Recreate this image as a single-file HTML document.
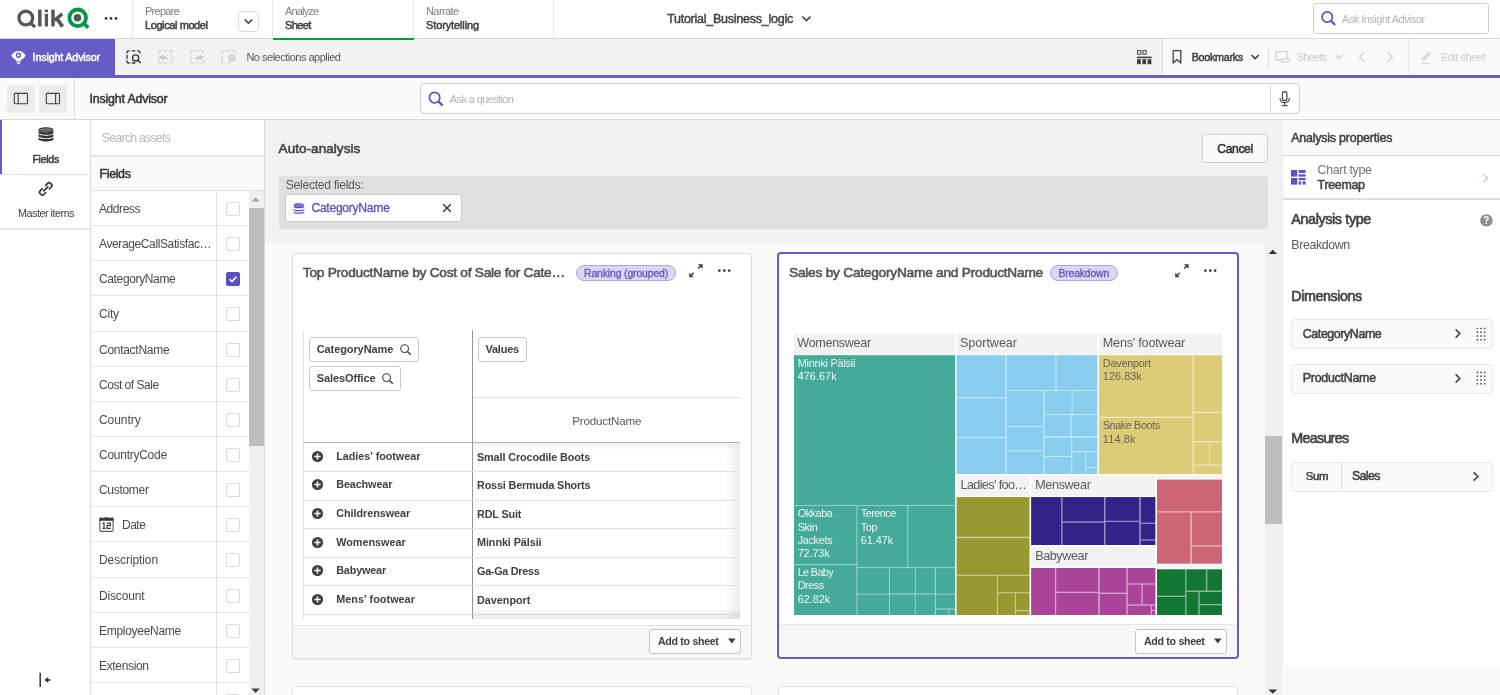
<!DOCTYPE html>
<html><head>
<meta charset="utf-8">
<title>Insight Advisor</title>
<style>
*{box-sizing:border-box;margin:0;padding:0}
html,body{width:1500px;height:695px;overflow:hidden;background:#fff}
body{font-family:"Liberation Sans",sans-serif;color:#404040;font-size:12px;position:relative;will-change:transform}
.abs{position:absolute}
.t{position:absolute;white-space:nowrap;line-height:1}
.bb{font-weight:bold}
.b{font-weight:normal;-webkit-text-stroke:0.5px currentColor}
/* top bar */
#top{left:0;top:0;width:1500px;height:39px;background:#fff;border-bottom:1px solid #d9d9d9}
.vd{position:absolute;width:1px;background:#e6e6e6}
/* selection bar */
#sel{left:0;top:39px;width:1500px;height:36px;background:#f2f2f2}
#pline{left:0;top:75px;width:1500px;height:2.6px;background:#655dc6}
#ia{left:0;top:39px;width:115px;height:36px;background:#655dc6}
/* third bar */
#bar3{left:0;top:78px;width:1500px;height:42px;background:#fafafa;border-bottom:1px solid #d9d9d9}
.tb{position:absolute;top:85px;width:28px;height:28px;background:#ececec;border-radius:3px}
/* left */
#lefticons{left:0;top:120px;width:90px;height:575px;background:#fff}
#assets{left:90px;top:120px;width:175px;height:575px;background:#fff;border-left:1px solid #d9d9d9;border-right:1px solid #d9d9d9}
.row{position:absolute;left:91px;width:157.5px;height:35px;border-bottom:1px solid #e6e6e6}
.row .n{position:absolute;left:8px;top:11.9px;font-size:12px;line-height:1;white-space:nowrap;color:#4a4a4a}
.row .cbx{position:absolute;left:125px;top:0;width:33px;height:35px;border-left:1px solid #e0e0e0}
.row .cb{position:absolute;left:8.5px;top:11px;width:14px;height:14px;border:1px solid #dadada;border-radius:2px;background:#fff}
/* main */
#main{left:265px;top:120px;width:1017px;height:575px;background:#fafafa}
#mainhead{left:265px;top:120px;width:1017px;height:123px;background:#f2f2f2}
.card{position:absolute;background:#fff;border:1px solid #dcdcdc;border-radius:3px;box-shadow:0 1px 1px rgba(0,0,0,0.08)}
.pill{position:absolute;height:16px;margin-top:-0.7px;border:1px solid #a9a5e0;background:#d9d7f1;border-radius:8px;color:#625ac6;font-size:10.5px;line-height:14px;text-align:center;-webkit-text-stroke:0.35px #625ac6}
.foot{position:absolute;left:0;right:0;bottom:0;height:33px;background:#f7f7f7;border-top:1px solid #e6e6e6;border-radius:0 0 3px 3px}
.addbtn{position:absolute;width:92px;height:25px;border:1px solid #c4c4c4;border-radius:3px;background:#fdfdfd}
/* right */
#right{left:1281.5px;top:120px;width:218.5px;height:546px;background:#fff;border-left:1px solid #ebebeb}
.box{position:absolute;left:1291px;width:202px;height:30px;background:#fafafa;border:1px solid #e7e7e7;border-radius:3px}
</style>
</head>
<body>
<!--TOP-->
<div id="top" class="abs"></div>
<svg class="abs" style="left:0;top:0" width="130" height="38" viewBox="0 0 130 38">
 <g fill="none" stroke="#54565a">
  <circle cx="25.8" cy="18" r="6.9" stroke-width="3.3"></circle>
  <path d="M30.2 22.6 L35 27" stroke-width="3.2"></path>
  <path d="M39.8 9.6 V26.4" stroke-width="3.5"></path>
  <path d="M46.4 13.8 V26.4" stroke-width="3.3"></path>
  <path d="M46.4 9.6 V12.2" stroke-width="3.3"></path>
  <path d="M53 9.6 V26.4" stroke-width="3.5"></path>
  <path d="M54.4 20.3 L62.3 13.9" stroke-width="3.3"></path>
  <path d="M56.8 18.6 L62.6 26.6" stroke-width="3.6"></path>
 </g>
 <circle cx="77.7" cy="17.8" r="8.3" fill="none" stroke="#009845" stroke-width="3.8"></circle>
 <path d="M83.6 23.4 L88.3 27.6" stroke="#009845" stroke-width="3.6" fill="none"></path>
 <circle cx="77.5" cy="17.8" r="3.8" fill="#54565a"></circle>
 <circle cx="88.5" cy="10.6" r="0.7" fill="#b0b0b0"></circle>
 <circle cx="106" cy="18.4" r="1.35" fill="#333"></circle><circle cx="111" cy="18.4" r="1.35" fill="#333"></circle><circle cx="116" cy="18.4" r="1.35" fill="#333"></circle>
</svg>
<div class="vd" style="left:132px;top:0;height:38px"></div>
<div class="vd" style="left:272px;top:0;height:38px"></div>
<div class="vd" style="left:413px;top:0;height:38px"></div>
<div class="vd" style="left:553px;top:0;height:38px"></div>
<div class="t" style="left: 145px; top: 6px; font-size: 11px; color: rgb(125, 125, 125); letter-spacing: -0.73px;">Prepare</div>
<div class="t b" style="left: 145px; top: 20px; font-size: 11px; color: rgb(64, 64, 64); letter-spacing: -0.41px;">Logical model</div>
<div class="abs" style="left:238px;top:10.5px;width:21px;height:21.5px;border:1px solid #dadada;border-radius:4px;background:#fff"></div>
<svg class="abs" style="left:238px;top:11px" width="21" height="21"><path d="M6.8 8.6 L10.5 12.2 L14.2 8.6" fill="none" stroke="#404040" stroke-width="1.6"></path></svg>
<div class="t" style="left: 285px; top: 6px; font-size: 11px; color: rgb(125, 125, 125); letter-spacing: -0.83px;">Analyze</div>
<div class="t b" style="left: 285px; top: 20px; font-size: 11px; color: rgb(64, 64, 64); letter-spacing: -0.59px;">Sheet</div>
<div class="abs" style="left:273px;top:37.5px;width:140.5px;height:2.5px;background:#009845;z-index:5"></div>
<div class="t" style="left: 426px; top: 6px; font-size: 11px; color: rgb(125, 125, 125); letter-spacing: -0.58px;">Narrate</div>
<div class="t b" style="left: 426px; top: 20px; font-size: 11px; color: rgb(64, 64, 64); letter-spacing: -0.12px;">Storytelling</div>
<div class="t b" style="left: 667px; top: 12.8px; font-size: 12.5px; color: rgb(64, 64, 64); -webkit-text-stroke-width: 0.45px; letter-spacing: -0.24px;">Tutorial_Business_logic</div>
<svg class="abs" style="left:800px;top:12px" width="14" height="14"><path d="M2.5 4.5 L6.5 8.5 L10.5 4.5" fill="none" stroke="#404040" stroke-width="1.6"></path></svg>
<div class="abs" style="left:1313px;top:3px;width:176px;height:31px;border:1px solid #cfcfcf;border-radius:3px;background:#fff"></div>
<svg class="abs" style="left:1319px;top:9px" width="20" height="20"><circle cx="8.2" cy="8" r="5.2" fill="none" stroke="#5b53c4" stroke-width="1.7"></circle><path d="M12 11.8 L16.2 16" stroke="#5b53c4" stroke-width="2.2" fill="none"></path></svg>
<div class="t" style="left: 1342px; top: 13.7px; font-size: 11px; color: rgb(179, 179, 179); letter-spacing: -0.54px;">Ask Insight Advisor</div>
<!--SEL-->
<div id="sel" class="abs"></div>
<div class="abs" style="left:1162px;top:39px;width:338px;height:36px;background:#fafafa;border-left:1px solid #e0e0e0"></div>
<div id="pline" class="abs"></div>
<div id="ia" class="abs"></div>
<svg class="abs" style="left:10px;top:48px" width="18" height="18" viewBox="0 0 18 18">
 <path d="M1.3 7.6 C3.2 4.2 5.8 2.9 8.5 2.9 C11.2 2.9 13.8 4.2 15.7 7.6 C14.4 10 12.6 11.4 10.8 12 V13.2 H6.2 V12 C4.4 11.4 2.6 10 1.3 7.6 Z" fill="#fff"></path>
 <circle cx="8.5" cy="7.3" r="2.7" fill="#655dc6"></circle>
 <circle cx="8.5" cy="7.3" r="1.2" fill="#fff"></circle>
 <path d="M6.6 14.3 H10.4 M7.2 15.7 H9.8" stroke="#fff" stroke-width="1"></path>
</svg>
<div class="t b" style="left: 32.6px; top: 51.5px; font-size: 10.7px; color: rgb(255, 255, 255); letter-spacing: -0.14px;">Insight Advisor</div>
<svg class="abs" style="left:120px;top:44px" width="125" height="26" viewBox="0 0 125 26">
 <path d="M7.0 9.6 V8.4 Q7.0 6.8 8.7 6.8 H9.8 M17.1 6.8 H18.3 Q19.9 6.8 19.9 8.4 V9.6 M9.8 19.0 H8.7 Q7.0 19.0 7.0 17.4 V16.2 M11.7 6.8 H15.3 M11.7 19.0 H15.3 M7.0 11.1 V14.7" fill="none" stroke="#333" stroke-width="1.35"></path>
 <circle cx="15.6" cy="13.9" r="3.1" fill="none" stroke="#333" stroke-width="1.3"></circle>
 <path d="M17.9 16.2 L20.7 19" stroke="#333" stroke-width="1.6"></path>
 <g fill="none" stroke="#cdcdcd" stroke-width="1.2"><path d="M38.8 9.6 V8.4 Q38.8 6.8 40.4 6.8 H41.6 M49.1 6.8 H50.3 Q51.9 6.8 51.9 8.4 V9.6 M51.9 16.2 V17.4 Q51.9 19.0 50.3 19.0 H49.1 M41.6 19.0 H40.4 Q38.8 19.0 38.8 17.4 V16.2 M43.5 6.8 H47.1 M43.5 19.0 H47.1 M38.8 11.1 V14.7 M51.9 11.1 V14.7"></path><path d="M70.6 9.6 V8.4 Q70.6 6.8 72.2 6.8 H73.4 M80.6 6.8 H81.8 Q83.4 6.8 83.4 8.4 V9.6 M83.4 16.2 V17.4 Q83.4 19.0 81.8 19.0 H80.6 M73.4 19.0 H72.2 Q70.6 19.0 70.6 17.4 V16.2 M75.2 6.8 H78.8 M75.2 19.0 H78.8 M70.6 11.1 V14.7"></path><path d="M102.0 9.6 V8.4 Q102.0 6.8 103.6 6.8 H104.8 M112.5 6.8 H113.7 Q115.3 6.8 115.3 8.4 V9.6 M104.8 19.0 H103.6 Q102.0 19.0 102.0 17.4 V16.2 M106.9 6.8 H110.5 M106.9 19.0 H110.5 M102.0 11.1 V14.7"></path></g>
 <path d="M39.2 13.3 L43.4 10.3 V12.2 C46.4 12.2 47.9 14 47.9 17 C46.9 15.3 45.6 14.7 43.4 14.7 V16.3 Z" fill="#c8c8c8"></path>
 <path d="M83.8 13.3 L79.6 10.3 V12.2 C76.6 12.2 75.1 14 75.1 17 C76.1 15.3 77.4 14.7 79.6 14.7 V16.3 Z" fill="#c8c8c8"></path>
 <circle cx="112" cy="13.9" r="3.5" fill="#cdcdcd"></circle>
 <path d="M110.6 12.5 L113.4 15.3 M113.4 12.5 L110.6 15.3" stroke="#f2f2f2" stroke-width="0.9"></path>
</svg>
<div class="t" style="left: 246.4px; top: 52px; font-size: 11px; color: rgb(89, 89, 89); letter-spacing: -0.5px;">No selections applied</div>
<svg class="abs" style="left:1136px;top:49px" width="17" height="17" viewBox="0 0 17 17">
 <g fill="none" stroke="#404040" stroke-width="1"><rect x="1.6" y="1.6" width="3.3" height="3.6"></rect><rect x="6.9" y="1.6" width="3.3" height="3.6"></rect></g>
 <g fill="#404040"><rect x="1" y="7.6" width="14.6" height="1.6"></rect><rect x="1" y="10.2" width="3.8" height="5"></rect><rect x="6.3" y="10.2" width="3.8" height="5"></rect><rect x="11.6" y="10.2" width="3.8" height="5"></rect></g>
</svg>
<svg class="abs" style="left:1170px;top:49px" width="14" height="16" viewBox="0 0 14 16"><path d="M3.2 1.6 H10.8 V14 L7 10.6 L3.2 14 Z" fill="none" stroke="#404040" stroke-width="1.3" stroke-linejoin="round"></path></svg>
<div class="t b" style="left: 1191.7px; top: 52px; font-size: 10.7px; color: rgb(64, 64, 64); letter-spacing: -0.25px;">Bookmarks</div>
<svg class="abs" style="left:1249px;top:51px" width="12" height="12"><path d="M2.6 4 L6.2 7.6 L9.8 4" fill="none" stroke="#404040" stroke-width="1.6"></path></svg>
<div class="vd" style="left:1267.5px;top:47px;height:20.5px;background:#d9d9d9"></div>
<svg class="abs" style="left:1274px;top:50px" width="17" height="14" viewBox="0 0 17 14"><rect x="1.6" y="1.6" width="11.6" height="8.2" rx="1" fill="none" stroke="#cfcfcf" stroke-width="1.2"></rect><rect x="8" y="9" width="7.4" height="3" fill="#fafafa" stroke="#cfcfcf" stroke-width="1"></rect></svg>
<div class="t" style="left: 1296.8px; top: 52px; font-size: 11px; color: rgb(204, 204, 204); letter-spacing: -0.76px;">Sheets</div>
<svg class="abs" style="left:1333px;top:51px" width="12" height="12"><path d="M2.6 4 L6.2 7.6 L9.8 4" fill="none" stroke="#d4d4d4" stroke-width="1.5"></path></svg>
<svg class="abs" style="left:1356px;top:50px" width="12" height="14"><path d="M8.2 2.2 L3.6 7 L8.2 11.8" fill="none" stroke="#d4d4d4" stroke-width="1.5"></path></svg>
<svg class="abs" style="left:1384px;top:50px" width="12" height="14"><path d="M3.8 2.2 L8.4 7 L3.8 11.8" fill="none" stroke="#d4d4d4" stroke-width="1.5"></path></svg>
<div class="vd" style="left:1408px;top:39px;height:36px;background:#e8e8e8"></div>
<svg class="abs" style="left:1419px;top:49px" width="16" height="16" viewBox="0 0 16 16"><path d="M2.2 12.2 L3 9 L9.6 2.4 L12 4.8 L5.4 11.4 Z" fill="#d9d9d9"></path><path d="M1.5 14.4 H11" stroke="#d9d9d9" stroke-width="1"></path></svg>
<div class="t" style="left: 1440.7px; top: 52px; font-size: 11px; color: rgb(204, 204, 204); letter-spacing: -0.46px;">Edit sheet</div>
<!--BAR3-->
<div id="bar3" class="abs"></div>
<div class="tb" style="left:7px"></div><div class="tb" style="left:39px"></div>
<svg class="abs" style="left:7px;top:85px" width="60" height="28" viewBox="0 0 60 28">
 <g fill="none" stroke="#404040" stroke-width="1.1"><rect x="7.3" y="8.4" width="13.2" height="10.4" rx="0.8"></rect><path d="M11.2 8.4 V18.8"></path>
 <rect x="39.3" y="8.4" width="13.2" height="10.4" rx="0.8"></rect><path d="M48.6 8.4 V18.8"></path></g>
</svg>
<div class="vd" style="left:74px;top:78px;height:41px;background:#e0e0e0"></div>
<div class="t b" style="left: 89.4px; top: 92.5px; font-size: 12.4px; color: rgb(51, 51, 51); letter-spacing: -0.16px;">Insight Advisor</div>
<div class="abs" style="left:420px;top:83.4px;width:880px;height:30.6px;border:1px solid #cfcfcf;border-radius:4px;background:#fff"></div>
<div class="vd" style="left:1270px;top:85px;height:28px;background:#d9d9d9"></div>
<svg class="abs" style="left:426px;top:89px" width="20" height="20"><circle cx="8.6" cy="8.6" r="5.2" fill="none" stroke="#5b53c4" stroke-width="1.7"></circle><path d="M12.4 12.4 L16.6 16.6" stroke="#5b53c4" stroke-width="2.2" fill="none"></path></svg>
<div class="t" style="left: 449.8px; top: 94px; font-size: 11px; color: rgb(179, 179, 179); letter-spacing: -0.62px;">Ask a question</div>
<svg class="abs" style="left:1277px;top:90px" width="16" height="18" viewBox="0 0 16 18"><rect x="5.4" y="1.6" width="4.6" height="9" rx="2.3" fill="none" stroke="#404040" stroke-width="1.1"></rect><path d="M3 8 C3 11.4 5 12.6 7.7 12.6 C10.4 12.6 12.4 11.4 12.4 8 M7.7 12.6 V15.6 M4.6 15.8 H10.8" fill="none" stroke="#404040" stroke-width="1.1"></path></svg>
<!--LEFT-->
<div id="lefticons" class="abs"></div>
<div class="abs" style="left:0;top:120px;width:2px;height:54px;background:#655dc6"></div>
<div class="abs" style="left:0;top:174px;width:90px;height:1px;background:#e0e0e0"></div>
<div class="abs" style="left:0;top:228px;width:90px;height:2px;background:#e6e6e6"></div>
<svg class="abs" style="left:37.7px;top:126.5px" width="16" height="16" viewBox="0 0 16 16"><g fill="#333" transform="translate(0.5,0.2)"><ellipse cx="7.45" cy="2.7" rx="6.9" ry="2.15" fill="#6e6e6e" stroke="#333" stroke-width="1.1"></ellipse><path d="M0.00 3.00 C0.00 5.90 14.90 5.90 14.90 3.00 V5.45 C14.90 8.35 0.00 8.35 0.00 5.45 Z"></path><path d="M0.00 6.35 C0.00 9.25 14.90 9.25 14.90 6.35 V8.80 C14.90 11.70 0.00 11.70 0.00 8.80 Z"></path><path d="M0.00 9.70 C0.00 12.60 14.90 12.60 14.90 9.70 V12.15 C14.90 15.05 0.00 15.05 0.00 12.15 Z"></path></g></svg>
<div class="t b" style="left: 32.4px; top: 153.5px; font-size: 10.6px; color: rgb(64, 64, 64); letter-spacing: -0.28px;">Fields</div>
<svg class="abs" style="left:37px;top:180px" width="18" height="18" viewBox="0 0 18 18">
 <g fill="none" stroke="#333" stroke-width="1.65" stroke-linecap="round" stroke-linejoin="round" transform="translate(8.75,8.9) rotate(-45)"><path d="M2.5 -2.6 H5.3 Q7.3 -2.6 7.3 -0.6 V0.6 Q7.3 2.6 5.3 2.6 H2.5"></path><path d="M-2.5 -2.6 H-5.3 Q-7.3 -2.6 -7.3 -0.6 V0.6 Q-7.3 2.6 -5.3 2.6 H-2.5"></path><path d="M-2.9 0 H2.9"></path></g>
</svg>
<div class="t" style="left: 18px; top: 207.5px; font-size: 10.8px; color: rgb(64, 64, 64); letter-spacing: -0.5px;">Master items</div>
<svg class="abs" style="left:36px;top:672px" width="18" height="16" viewBox="0 0 18 16"><path d="M4.2 0.8 V15" stroke="#333" stroke-width="1.5"></path><path d="M14.4 8 H11" stroke="#333" stroke-width="1.7"></path><path d="M8.4 8 L12.2 5 V11 Z" fill="#333"></path></svg>
<div id="assets" class="abs"></div>
<div class="t" style="left: 101.7px; top: 131.5px; font-size: 12.4px; color: rgb(184, 184, 184); letter-spacing: -0.78px;">Search assets</div>
<div class="abs" style="left:91px;top:155px;width:173px;height:2px;background:#e6e6e6"></div>
<div class="abs" style="left:91px;top:157px;width:173px;height:33px;background:#fafafa"></div>
<div class="abs" style="left:91px;top:190px;width:173px;height:1px;background:#e0e0e0"></div>
<div class="t b" style="left: 99.5px; top: 167.5px; font-size: 12.4px; color: rgb(51, 51, 51); letter-spacing: -0.34px;">Fields</div>
<div class="row" style="top:191px;height:35px"><div class="n fn" style="left: 8px; letter-spacing: -0.43px;">Address</div><div class="cbx" style="height:35px"><div class="cb"></div></div></div>
<div class="row" style="top:226px;height:35px"><div class="n fn" style="left: 8px; letter-spacing: -0.38px;">AverageCallSatisfac…</div><div class="cbx" style="height:35px"><div class="cb"></div></div></div>
<div class="row" style="top:261px;height:35px"><div class="n fn" style="left: 8px; letter-spacing: -0.36px;">CategoryName</div><div class="cbx" style="height:35px"><div class="cb" style="background:#5a4fc0;border-color:#5a4fc0"></div><svg style="position:absolute;left:8.5px;top:11px" width="14" height="14"><path d="M3.6 7.2 L6 9.6 L10.4 4.8" fill="none" stroke="#fff" stroke-width="1.6"></path></svg></div></div>
<div class="row" style="top:296px;height:36px"><div class="n fn" style="left: 8px; letter-spacing: -0.19px;">City</div><div class="cbx" style="height:36px"><div class="cb"></div></div></div>
<div class="row" style="top:332px;height:35px"><div class="n fn" style="left: 8px; letter-spacing: -0.28px;">ContactName</div><div class="cbx" style="height:35px"><div class="cb"></div></div></div>
<div class="row" style="top:367px;height:35px"><div class="n fn" style="left: 8px; letter-spacing: -0.48px;">Cost of Sale</div><div class="cbx" style="height:35px"><div class="cb"></div></div></div>
<div class="row" style="top:402px;height:35px"><div class="n fn" style="left: 8px; letter-spacing: -0.06px;">Country</div><div class="cbx" style="height:35px"><div class="cb"></div></div></div>
<div class="row" style="top:437px;height:35px"><div class="n fn" style="left: 8px; letter-spacing: -0.26px;">CountryCode</div><div class="cbx" style="height:35px"><div class="cb"></div></div></div>
<div class="row" style="top:472px;height:35px"><div class="n fn" style="left: 8px; letter-spacing: -0.3px;">Customer</div><div class="cbx" style="height:35px"><div class="cb"></div></div></div>
<div class="row" style="top:507px;height:35px"><svg style="position:absolute;left:8px;top:9.8px" width="16" height="16" viewBox="0 0 16 16"><rect x="0.9" y="1.4" width="13.2" height="13" rx="1.4" fill="none" stroke="#595959" stroke-width="1.1"></rect><path d="M0.5 1.2 Q0.5 0.4 1.3 0.4 H2.6 V1.5 H5.2 V0.4 H9.8 V1.5 H12.4 V0.4 H13.7 Q14.5 0.4 14.5 1.2 V3.7 H0.5 Z" fill="#333"></path><path d="M3.6 6.6 L5 5.9 V11.3 M3.5 11.4 H6.4" fill="none" stroke="#333" stroke-width="1.15"></path><path d="M7.9 6.1 H11.4 V8.5 H8.1 V11.3 H11.7" fill="none" stroke="#333" stroke-width="1.15"></path></svg><div class="n fn" style="left: 31px; letter-spacing: -0.49px;">Date</div><div class="cbx" style="height:35px"><div class="cb"></div></div></div>
<div class="row" style="top:542px;height:36px"><div class="n fn" style="left: 8px; letter-spacing: -0.09px;">Description</div><div class="cbx" style="height:36px"><div class="cb"></div></div></div>
<div class="row" style="top:578px;height:35px"><div class="n fn" style="left: 8px; letter-spacing: -0.16px;">Discount</div><div class="cbx" style="height:35px"><div class="cb"></div></div></div>
<div class="row" style="top:613px;height:35px"><div class="n fn" style="left: 8px; letter-spacing: -0.29px;">EmployeeName</div><div class="cbx" style="height:35px"><div class="cb"></div></div></div>
<div class="row" style="top:648px;height:35px"><div class="n fn" style="left: 8px; letter-spacing: -0.34px;">Extension</div><div class="cbx" style="height:35px"><div class="cb"></div></div></div>
<div class="row" style="top:683px;height:35px"><div class="n fn" style="left:8px"></div><div class="cbx" style="height:35px"><div class="cb"></div></div></div>
<div class="abs" style="left:248.5px;top:191px;width:15px;height:504px;background:#f0f0f0"></div>
<div class="abs" style="left:248.5px;top:208px;width:15px;height:238px;background:#bdbdbd"></div>
<svg class="abs" style="left:248.3px;top:191px" width="15" height="16"><path d="M3.6 10.4 L7.6 6.4 L11.6 10.4 Z" fill="#a0a0a0"></path></svg>
<svg class="abs" style="left:248.3px;top:683px" width="15" height="12"><path d="M3.4 5.6 L7.6 10 L11.8 5.6 Z" fill="#404040"></path></svg>
<!--MAIN-->
<div id="main" class="abs"></div>
<div id="mainhead" class="abs"></div>
<div class="t b" style="left: 278.6px; top: 141.6px; font-size: 13.5px; color: rgb(64, 64, 64); -webkit-text-stroke-width: 0.55px; letter-spacing: 0.05px;">Auto-analysis</div>
<div class="abs" style="left:1202px;top:134px;width:65.5px;height:28.5px;border:1px solid #cfcfcf;border-radius:3px;background:#fafafa"></div>
<div class="t b" style="left: 1217.3px; top: 142.8px; font-size: 12.2px; color: rgb(51, 51, 51); letter-spacing: -0.41px;">Cancel</div>
<div class="abs" style="left:278.5px;top:176px;width:989px;height:53px;background:#e0e0e0;border-radius:3px"></div>
<div class="t" style="left: 285.8px; top: 178.5px; font-size: 12.2px; color: rgb(89, 89, 89); letter-spacing: -0.32px;">Selected fields:</div>
<div class="abs" style="left:285px;top:194px;width:176.5px;height:28px;border:1px solid #c8c8c8;border-radius:3px;background:#fff"></div>
<svg class="abs" style="left:293.1px;top:202.6px" width="12" height="12" viewBox="0 0 12 12"><g fill="#5b53c4" transform="translate(0.5,0.2)"><ellipse cx="5.4" cy="1.9" rx="4.9" ry="1.4" fill="#8a84d8" stroke="#5b53c4" stroke-width="1"></ellipse><path d="M0.00 2.20 C0.00 4.40 10.80 4.40 10.80 2.20 V3.50 C10.80 5.70 0.00 5.70 0.00 3.50 Z"></path><path d="M0.00 5.20 C0.00 7.40 10.80 7.40 10.80 5.20 V6.50 C10.80 8.70 0.00 8.70 0.00 6.50 Z"></path><path d="M0.00 7.70 C0.00 9.90 10.80 9.90 10.80 7.70 V9.00 C10.80 11.20 0.00 11.20 0.00 9.00 Z"></path></g></svg>
<div class="t" style="left: 311.4px; top: 202px; font-size: 12.2px; color: rgb(91, 83, 196); -webkit-text-stroke: 0.3px rgb(91, 83, 196); letter-spacing: -0.31px;">CategoryName</div>
<svg class="abs" style="left:441px;top:202px" width="12" height="12"><path d="M2.2 2.2 L9.8 9.8 M9.8 2.2 L2.2 9.8" stroke="#333" stroke-width="1.4"></path></svg>
<!-- card 1 -->
<div class="card" style="left:292px;top:253px;width:460px;height:406px"><div class="foot"></div></div>
<div class="t b" style="left: 302.8px; top: 265.7px; font-size: 13.7px; color: rgb(82, 82, 82); -webkit-text-stroke-width: 0.55px; letter-spacing: -0.25px;">Top ProductName by Cost of Sale for Cate…</div>
<div class="pill" style="left:576.3px;top:266px;width:99.5px"><span class="t" style="position: relative; display: inline-block; font-size: 10.4px; line-height: 15.6px; letter-spacing: -0.12px;">Ranking (grouped)</span></div>
<svg class="abs" style="left:688px;top:262px" width="17" height="17" viewBox="0 0 17 17"><g fill="#404040" stroke="#404040" transform="translate(7.85,8.7) scale(0.9) translate(-7.85,-8.7)"><path d="M10.8 1.7 H15 V5.9 Z" stroke-width="0.6" stroke-linejoin="round"></path><path d="M13.6 3.1 L10.4 6.3" stroke-width="1.7" fill="none"></path><path d="M0.7 11.5 V15.7 H4.9 Z" stroke-width="0.6" stroke-linejoin="round"></path><path d="M2.1 14.3 L5.4 11" stroke-width="1.7" fill="none"></path></g></svg>
<svg class="abs" style="left:717px;top:266px" width="16" height="10"><circle cx="2.4" cy="4.6" r="1.3" fill="#333"></circle><circle cx="7.3" cy="4.6" r="1.3" fill="#333"></circle><circle cx="12.2" cy="4.6" r="1.3" fill="#333"></circle></svg>

<div class="abs" style="left:303px;top:331px;width:1px;height:288px;background:#e0e0e0"></div>
<div class="abs" style="left:472px;top:330px;width:1px;height:289px;background:#969696"></div>
<div class="abs" style="left:473px;top:397px;width:267px;height:1px;background:#e0e0e0"></div>
<div class="abs" style="left:303px;top:442px;width:437px;height:1px;background:#b5b5b5"></div>
<div class="abs" style="left:308.7px;top:337px;width:110px;height:24.5px;border:1px solid #c8c8c8;border-radius:3px;background:#fff"></div>
<div class="t bb" style="left: 316.7px; top: 344px; font-size: 11px; color: rgb(64, 64, 64); letter-spacing: -0.09px;">CategoryName</div>
<svg class="abs" style="left:399px;top:343px" width="14" height="14"><circle cx="5.6" cy="5.6" r="3.9" fill="none" stroke="#404040" stroke-width="1.1"></circle><path d="M8.4 8.4 L11.8 11.8" stroke="#404040" stroke-width="1.4"></path></svg>
<div class="abs" style="left:308.7px;top:366px;width:92px;height:24.5px;border:1px solid #c8c8c8;border-radius:3px;background:#fff"></div>
<div class="t bb" style="left: 316.7px; top: 373px; font-size: 11px; color: rgb(64, 64, 64); letter-spacing: -0.09px;">SalesOffice</div>
<svg class="abs" style="left:381px;top:372px" width="14" height="14"><circle cx="5.6" cy="5.6" r="3.9" fill="none" stroke="#404040" stroke-width="1.1"></circle><path d="M8.4 8.4 L11.8 11.8" stroke="#404040" stroke-width="1.4"></path></svg>
<div class="abs" style="left:477.5px;top:337px;width:49px;height:24.5px;border:1px solid #c8c8c8;border-radius:3px;background:#fff"></div>
<div class="t bb" style="left: 485.4px; top: 344px; font-size: 11px; color: rgb(64, 64, 64); letter-spacing: -0.21px;">Values</div>
<div class="t" style="left: 572.2px; top: 414.5px; font-size: 11.6px; color: rgb(89, 89, 89); letter-spacing: -0.17px;">ProductName</div>
<div class="abs" style="left:304px;top:471px;width:436px;height:1px;background:#e0e0e0"></div>
<svg class="abs" style="left:311px;top:449.9px" width="13" height="13"><circle cx="6.5" cy="6.5" r="5.6" fill="#404040"></circle><path d="M3.4 6.5 H9.6 M6.5 3.4 V9.6" stroke="#fff" stroke-width="1.5"></path></svg>
<div class="t bb" style="left: 336.2px; top: 450.9px; font-size: 10.8px; color: rgb(64, 64, 64); letter-spacing: -0.04px;">Ladies' footwear</div>
<div class="t bb" style="left: 477px; top: 451.7px; font-size: 10.8px; color: rgb(64, 64, 64); letter-spacing: -0.1px;">Small Crocodile Boots</div>
<div class="abs" style="left:304px;top:500px;width:436px;height:1px;background:#e0e0e0"></div>
<svg class="abs" style="left:311px;top:478.4px" width="13" height="13"><circle cx="6.5" cy="6.5" r="5.6" fill="#404040"></circle><path d="M3.4 6.5 H9.6 M6.5 3.4 V9.6" stroke="#fff" stroke-width="1.5"></path></svg>
<div class="t bb" style="left: 336.2px; top: 479.4px; font-size: 10.8px; color: rgb(64, 64, 64); letter-spacing: -0.1px;">Beachwear</div>
<div class="t bb" style="left: 477px; top: 480.2px; font-size: 10.8px; color: rgb(64, 64, 64); letter-spacing: -0.15px;">Rossi Bermuda Shorts</div>
<div class="abs" style="left:304px;top:528px;width:436px;height:1px;background:#e0e0e0"></div>
<svg class="abs" style="left:311px;top:507.0px" width="13" height="13"><circle cx="6.5" cy="6.5" r="5.6" fill="#404040"></circle><path d="M3.4 6.5 H9.6 M6.5 3.4 V9.6" stroke="#fff" stroke-width="1.5"></path></svg>
<div class="t bb" style="left: 336.2px; top: 508px; font-size: 10.8px; color: rgb(64, 64, 64); letter-spacing: -0.03px;">Childrenswear</div>
<div class="t bb" style="left: 477px; top: 508.8px; font-size: 10.8px; color: rgb(64, 64, 64); letter-spacing: -0.14px;">RDL Suit</div>
<div class="abs" style="left:304px;top:557px;width:436px;height:1px;background:#e0e0e0"></div>
<svg class="abs" style="left:311px;top:535.6px" width="13" height="13"><circle cx="6.5" cy="6.5" r="5.6" fill="#404040"></circle><path d="M3.4 6.5 H9.6 M6.5 3.4 V9.6" stroke="#fff" stroke-width="1.5"></path></svg>
<div class="t bb" style="left: 336.2px; top: 536.6px; font-size: 10.8px; color: rgb(64, 64, 64); letter-spacing: 0.02px;">Womenswear</div>
<div class="t bb" style="left: 477px; top: 537.4px; font-size: 10.8px; color: rgb(64, 64, 64); letter-spacing: -0.07px;">Minnki Pälsii</div>
<div class="abs" style="left:304px;top:585px;width:436px;height:1px;background:#e0e0e0"></div>
<svg class="abs" style="left:311px;top:564.1px" width="13" height="13"><circle cx="6.5" cy="6.5" r="5.6" fill="#404040"></circle><path d="M3.4 6.5 H9.6 M6.5 3.4 V9.6" stroke="#fff" stroke-width="1.5"></path></svg>
<div class="t bb" style="left: 336.2px; top: 565.1px; font-size: 10.8px; color: rgb(64, 64, 64); letter-spacing: -0.15px;">Babywear</div>
<div class="t bb" style="left: 477px; top: 565.9px; font-size: 10.8px; color: rgb(64, 64, 64); letter-spacing: -0.27px;">Ga-Ga Dress</div>
<div class="abs" style="left:304px;top:614px;width:436px;height:1px;background:#e0e0e0"></div>
<svg class="abs" style="left:311px;top:592.7px" width="13" height="13"><circle cx="6.5" cy="6.5" r="5.6" fill="#404040"></circle><path d="M3.4 6.5 H9.6 M6.5 3.4 V9.6" stroke="#fff" stroke-width="1.5"></path></svg>
<div class="t bb" style="left: 336.2px; top: 593.7px; font-size: 10.8px; color: rgb(64, 64, 64); letter-spacing: 0.04px;">Mens' footwear</div>
<div class="t bb" style="left: 477px; top: 594.5px; font-size: 10.8px; color: rgb(64, 64, 64); letter-spacing: 0px;">Davenport</div>
<div class="abs" style="left:473px;top:443px;width:267px;height:7px;background:linear-gradient(to bottom,rgba(0,0,0,0.06),rgba(0,0,0,0))"></div>
<div class="abs" style="left:724px;top:443.5px;width:16px;height:175.5px;background:linear-gradient(to right,rgba(235,235,235,0),rgba(228,228,228,0.7))"></div>
<div class="abs" style="left:473px;top:607px;width:267px;height:12px;background:linear-gradient(to bottom,rgba(0,0,0,0),rgba(0,0,0,0.075))"></div>
<div class="addbtn" style="left:649px;top:629px"></div>
<div class="t bb" style="left: 658px; top: 635.8px; font-size: 10.6px; color: rgb(64, 64, 64); letter-spacing: -0.3px;">Add to sheet</div>
<svg class="abs" style="left:726.0px;top:636.2px" width="12" height="10"><path d="M2 2.4 H9.6 L5.8 7.4 Z" fill="#404040"></path></svg>

<!-- card 2 -->
<div class="card" style="left:777px;top:252px;width:462px;height:407px;border:2px solid #625ac5;border-radius:4px;box-shadow:0 0 0 1px rgba(255,255,255,0.9)"><div class="foot"></div></div>
<div class="t b" style="left: 789px; top: 265.7px; font-size: 13.7px; color: rgb(82, 82, 82); -webkit-text-stroke-width: 0.55px; letter-spacing: -0.23px;">Sales by CategoryName and ProductName</div>
<div class="pill" style="left:1050px;top:266px;width:67.5px"><span class="t" style="position: relative; display: inline-block; font-size: 10.4px; line-height: 15.6px; letter-spacing: -0.15px;">Breakdown</span></div>
<svg class="abs" style="left:1174px;top:262px" width="17" height="17" viewBox="0 0 17 17"><g fill="#404040" stroke="#404040" transform="translate(7.85,8.7) scale(0.9) translate(-7.85,-8.7)"><path d="M10.8 1.7 H15 V5.9 Z" stroke-width="0.6" stroke-linejoin="round"></path><path d="M13.6 3.1 L10.4 6.3" stroke-width="1.7" fill="none"></path><path d="M0.7 11.5 V15.7 H4.9 Z" stroke-width="0.6" stroke-linejoin="round"></path><path d="M2.1 14.3 L5.4 11" stroke-width="1.7" fill="none"></path></g></svg>
<svg class="abs" style="left:1202.5px;top:266px" width="16" height="10"><circle cx="2.4" cy="4.6" r="1.3" fill="#333"></circle><circle cx="7.3" cy="4.6" r="1.3" fill="#333"></circle><circle cx="12.2" cy="4.6" r="1.3" fill="#333"></circle></svg>

<!--TM0-->
<svg class="abs" style="left:790px;top:330px" width="436" height="290" viewBox="0 0 436 290" shape-rendering="geometricPrecision">
<rect x="4.0" y="4.0" width="161.0" height="20.6" fill="#f2f2f2"></rect>
<rect x="4.0" y="25.3" width="161.0" height="259.7" fill="#a2d4cc"></rect>
<rect x="4.0" y="25.3" width="161.0" height="149.8" fill="#44aa99"></rect>
<rect x="4.0" y="176.0" width="62.4" height="58.2" fill="#44aa99"></rect>
<rect x="4.0" y="235.2" width="62.4" height="49.8" fill="#44aa99"></rect>
<rect x="67.4" y="176.0" width="49.8" height="61.1" fill="#44aa99"></rect>
<rect x="118.2" y="176.0" width="46.8" height="61.1" fill="#44aa99"></rect>
<rect x="67.4" y="238.1" width="31.6" height="25.6" fill="#44aa99"></rect>
<rect x="99.9" y="238.1" width="24.9" height="25.3" fill="#44aa99"></rect>
<rect x="125.7" y="238.1" width="19.2" height="25.3" fill="#44aa99"></rect>
<rect x="146.0" y="238.1" width="19.0" height="25.6" fill="#44aa99"></rect>
<rect x="67.4" y="264.7" width="31.6" height="20.3" fill="#44aa99"></rect>
<rect x="99.9" y="264.5" width="24.9" height="20.5" fill="#44aa99"></rect>
<rect x="125.7" y="264.5" width="19.2" height="20.5" fill="#44aa99"></rect>
<rect x="146.0" y="264.7" width="19.0" height="13.7" fill="#44aa99"></rect>
<rect x="146.0" y="279.5" width="12.2" height="5.5" fill="#44aa99"></rect>
<rect x="159.2" y="279.5" width="5.8" height="5.5" fill="#44aa99"></rect>
<rect x="166.7" y="4.0" width="140.6" height="20.6" fill="#f2f2f2"></rect>
<rect x="166.7" y="25.3" width="140.6" height="118.7" fill="#c4e6f6"></rect>
<rect x="166.7" y="25.3" width="48.6" height="41.8" fill="#88ccee"></rect>
<rect x="166.7" y="68.4" width="48.6" height="38.4" fill="#88ccee"></rect>
<rect x="166.7" y="108.1" width="48.6" height="35.9" fill="#88ccee"></rect>
<rect x="216.7" y="25.3" width="48.6" height="34.7" fill="#88ccee"></rect>
<rect x="266.6" y="25.3" width="40.7" height="34.7" fill="#88ccee"></rect>
<rect x="216.7" y="61.0" width="36.6" height="35.0" fill="#88ccee"></rect>
<rect x="216.7" y="97.2" width="36.6" height="23.0" fill="#88ccee"></rect>
<rect x="216.7" y="121.3" width="36.6" height="22.7" fill="#88ccee"></rect>
<rect x="254.6" y="61.0" width="27.0" height="23.0" fill="#88ccee"></rect>
<rect x="254.6" y="85.1" width="25.9" height="21.2" fill="#88ccee"></rect>
<rect x="254.6" y="107.9" width="26.6" height="18.1" fill="#88ccee"></rect>
<rect x="254.6" y="127.0" width="26.6" height="17.0" fill="#88ccee"></rect>
<rect x="282.7" y="61.0" width="24.6" height="23.0" fill="#88ccee"></rect>
<rect x="281.8" y="85.1" width="25.5" height="21.2" fill="#88ccee"></rect>
<rect x="282.3" y="107.9" width="25.0" height="13.1" fill="#88ccee"></rect>
<rect x="282.3" y="122.2" width="12.7" height="21.8" fill="#88ccee"></rect>
<rect x="296.1" y="122.2" width="11.2" height="14.8" fill="#88ccee"></rect>
<rect x="296.1" y="138.0" width="11.2" height="6.0" fill="#88ccee"></rect>
<rect x="309.0" y="4.0" width="123.0" height="20.6" fill="#f2f2f2"></rect>
<rect x="309.0" y="25.3" width="123.0" height="118.7" fill="#eee6bb"></rect>
<rect x="309.0" y="25.3" width="93.5" height="61.4" fill="#ddcc77"></rect>
<rect x="309.0" y="88.0" width="93.5" height="56.0" fill="#ddcc77"></rect>
<rect x="403.9" y="25.3" width="28.1" height="56.5" fill="#ddcc77"></rect>
<rect x="403.9" y="83.1" width="28.1" height="27.9" fill="#ddcc77"></rect>
<rect x="403.9" y="112.4" width="15.1" height="22.0" fill="#ddcc77"></rect>
<rect x="420.1" y="112.4" width="11.9" height="22.0" fill="#ddcc77"></rect>
<rect x="403.9" y="135.6" width="28.1" height="8.4" fill="#ddcc77"></rect>
<rect x="166.7" y="145.7" width="72.7" height="20.1" fill="#f2f2f2"></rect>
<rect x="166.7" y="167.1" width="72.7" height="117.9" fill="#cccc99"></rect>
<rect x="166.7" y="167.1" width="72.7" height="39.7" fill="#999933"></rect>
<rect x="166.7" y="208.2" width="72.7" height="36.6" fill="#999933"></rect>
<rect x="166.7" y="245.9" width="40.2" height="39.1" fill="#999933"></rect>
<rect x="208.0" y="245.9" width="31.4" height="16.3" fill="#999933"></rect>
<rect x="208.0" y="263.3" width="16.9" height="21.7" fill="#999933"></rect>
<rect x="226.0" y="263.3" width="13.4" height="16.7" fill="#999933"></rect>
<rect x="226.0" y="281.1" width="13.4" height="3.9" fill="#999933"></rect>
<rect x="241.2" y="145.7" width="124.1" height="20.1" fill="#f2f2f2"></rect>
<rect x="241.2" y="167.1" width="124.1" height="47.9" fill="#9990c4"></rect>
<rect x="241.2" y="167.1" width="29.9" height="47.9" fill="#332288"></rect>
<rect x="272.5" y="167.1" width="41.5" height="24.3" fill="#332288"></rect>
<rect x="272.5" y="192.8" width="41.5" height="22.2" fill="#332288"></rect>
<rect x="315.5" y="167.1" width="33.7" height="23.7" fill="#332288"></rect>
<rect x="315.5" y="192.0" width="33.7" height="23.0" fill="#332288"></rect>
<rect x="350.8" y="167.1" width="14.5" height="25.5" fill="#332288"></rect>
<rect x="350.8" y="193.9" width="14.5" height="15.4" fill="#332288"></rect>
<rect x="350.8" y="210.6" width="14.5" height="4.4" fill="#332288"></rect>
<rect x="241.2" y="216.7" width="124.1" height="19.8" fill="#f2f2f2"></rect>
<rect x="241.2" y="238.0" width="124.1" height="47.0" fill="#d4a2cc"></rect>
<rect x="241.2" y="238.0" width="23.7" height="47.0" fill="#aa4499"></rect>
<rect x="266.2" y="238.0" width="41.9" height="23.7" fill="#aa4499"></rect>
<rect x="266.2" y="263.0" width="41.9" height="22.0" fill="#aa4499"></rect>
<rect x="309.7" y="238.0" width="26.6" height="24.6" fill="#aa4499"></rect>
<rect x="309.7" y="264.0" width="26.6" height="21.0" fill="#aa4499"></rect>
<rect x="337.8" y="238.0" width="27.5" height="15.3" fill="#aa4499"></rect>
<rect x="337.8" y="254.6" width="13.6" height="19.8" fill="#aa4499"></rect>
<rect x="352.8" y="254.6" width="12.5" height="19.8" fill="#aa4499"></rect>
<rect x="337.8" y="275.8" width="23.0" height="9.2" fill="#aa4499"></rect>
<rect x="362.0" y="275.8" width="3.3" height="4.2" fill="#aa4499"></rect>
<rect x="362.0" y="281.0" width="3.3" height="4.0" fill="#aa4499"></rect>
<rect x="367.0" y="145.7" width="65.0" height="2.8" fill="#f2f2f2"></rect>
<rect x="367.0" y="149.7" width="65.0" height="83.9" fill="#e6b2bb"></rect>
<rect x="367.0" y="149.7" width="65.0" height="31.5" fill="#cc6677"></rect>
<rect x="367.0" y="182.5" width="33.3" height="51.1" fill="#cc6677"></rect>
<rect x="401.9" y="182.5" width="30.1" height="32.8" fill="#cc6677"></rect>
<rect x="401.9" y="216.7" width="30.1" height="16.9" fill="#cc6677"></rect>
<rect x="367.0" y="235.0" width="65.0" height="3.0" fill="#f2f2f2"></rect>
<rect x="367.0" y="239.4" width="65.0" height="45.6" fill="#88bb99"></rect>
<rect x="367.0" y="239.4" width="28.2" height="26.3" fill="#117733"></rect>
<rect x="367.0" y="267.0" width="28.2" height="18.0" fill="#117733"></rect>
<rect x="396.5" y="239.4" width="19.4" height="21.2" fill="#117733"></rect>
<rect x="417.3" y="239.4" width="14.7" height="21.2" fill="#117733"></rect>
<rect x="396.5" y="262.0" width="11.8" height="23.0" fill="#117733"></rect>
<rect x="409.7" y="262.0" width="22.3" height="12.0" fill="#117733"></rect>
<rect x="409.7" y="275.3" width="22.3" height="9.7" fill="#117733"></rect>
</svg>
<div class="t" style="left: 797.3px; top: 337px; font-size: 12.6px; color: rgb(89, 89, 89); letter-spacing: -0.32px;">Womenswear</div>
<div class="t" style="left: 960px; top: 337px; font-size: 12.6px; color: rgb(89, 89, 89); letter-spacing: -0.05px;">Sportwear</div>
<div class="t" style="left: 1102.8px; top: 337px; font-size: 12.6px; color: rgb(89, 89, 89); letter-spacing: -0.2px;">Mens' footwear</div>
<div class="t" style="left: 960.5px; top: 478.8px; font-size: 12.6px; color: rgb(89, 89, 89); letter-spacing: -0.61px;">Ladies' foo…</div>
<div class="t" style="left: 1035.2px; top: 478.8px; font-size: 12.6px; color: rgb(89, 89, 89); letter-spacing: -0.35px;">Menswear</div>
<div class="t" style="left: 1035.2px; top: 549.8px; font-size: 12.6px; color: rgb(89, 89, 89); letter-spacing: -0.41px;">Babywear</div>
<div class="t" style="left: 797.7px; top: 357.8px; font-size: 10.8px; color: rgba(255, 255, 255, 0.92); letter-spacing: -0.19px;">Minnki Pälsii</div>
<div class="t" style="left: 797.7px; top: 370.9px; font-size: 10.8px; color: rgba(255, 255, 255, 0.92); letter-spacing: 0.08px;">476.67k</div>
<div class="t" style="left: 797.7px; top: 508.3px; font-size: 10.8px; color: rgba(255, 255, 255, 0.92); letter-spacing: -0.44px;">Okkaba</div>
<div class="t" style="left: 797.7px; top: 521.7px; font-size: 10.8px; color: rgba(255, 255, 255, 0.92); letter-spacing: -0.35px;">Skin</div>
<div class="t" style="left: 797.7px; top: 535.1px; font-size: 10.8px; color: rgba(255, 255, 255, 0.92); letter-spacing: -0.29px;">Jackets</div>
<div class="t" style="left: 797.7px; top: 548px; font-size: 10.8px; color: rgba(255, 255, 255, 0.92); letter-spacing: -0.09px;">72.73k</div>
<div class="t" style="left: 797.7px; top: 566.9px; font-size: 10.8px; color: rgba(255, 255, 255, 0.92); letter-spacing: -0.63px;">Le Baby</div>
<div class="t" style="left: 797.7px; top: 580.3px; font-size: 10.8px; color: rgba(255, 255, 255, 0.92); letter-spacing: -0.46px;">Dress</div>
<div class="t" style="left: 797.7px; top: 593.7px; font-size: 10.8px; color: rgba(255, 255, 255, 0.92); letter-spacing: 0.03px;">62.82k</div>
<div class="t" style="left: 860.8px; top: 508.3px; font-size: 10.8px; color: rgba(255, 255, 255, 0.92); letter-spacing: -0.49px;">Terence</div>
<div class="t" style="left: 860.8px; top: 521.7px; font-size: 10.8px; color: rgba(255, 255, 255, 0.92); letter-spacing: -0.37px;">Top</div>
<div class="t" style="left: 860.8px; top: 535.1px; font-size: 10.8px; color: rgba(255, 255, 255, 0.92); letter-spacing: -0.02px;">61.47k</div>
<div class="t" style="left: 1102.8px; top: 357.9px; font-size: 10.8px; color: rgb(101, 98, 90); letter-spacing: -0.2px;">Davenport</div>
<div class="t" style="left: 1102.8px; top: 370.9px; font-size: 10.8px; color: rgb(101, 98, 90); letter-spacing: 0.08px;">126.83k</div>
<div class="t" style="left: 1102.8px; top: 420.1px; font-size: 10.8px; color: rgb(101, 98, 90); letter-spacing: -0.39px;">Snake Boots</div>
<div class="t" style="left: 1102.8px; top: 433.5px; font-size: 10.8px; color: rgb(101, 98, 90); letter-spacing: 0.2px;">114.8k</div>
<!--TM1-->
<div class="addbtn" style="left:1135px;top:629px"></div>
<div class="t bb" style="left: 1144px; top: 635.8px; font-size: 10.6px; color: rgb(64, 64, 64); letter-spacing: -0.3px;">Add to sheet</div>
<svg class="abs" style="left:1212.0px;top:636.2px" width="12" height="10"><path d="M2 2.4 H9.6 L5.8 7.4 Z" fill="#404040"></path></svg>

<!-- next cards -->
<div class="card" style="left:292px;top:685.5px;width:460px;height:30px;border-color:#e4e4e4"></div>
<div class="card" style="left:778px;top:685.5px;width:460px;height:30px;border-color:#e4e4e4"></div>
<!-- main scrollbar -->
<div class="abs" style="left:1265px;top:243px;width:16.5px;height:452px;background:#f0f0f0"></div>
<div class="abs" style="left:1265px;top:436px;width:16.5px;height:87.5px;background:#bdbdbd"></div>
<svg class="abs" style="left:1264.8px;top:243px" width="16" height="16"><path d="M3.6 11 L7.8 6.8 L12 11 Z" fill="#333"></path></svg>
<svg class="abs" style="left:1264.8px;top:683px" width="16" height="12"><path d="M3.4 6.4 L7.8 10.8 L12.2 6.4 Z" fill="#333"></path></svg>
<!--RIGHT-->
<div id="right" class="abs"></div>
<div class="abs" style="left:1283px;top:666px;width:217px;height:29px;background:#fafafa"></div>
<div class="abs" style="left:1283px;top:120px;width:217px;height:36px;background:#fafafa;border-bottom:1px solid #d9d9d9"></div>
<div class="t b" style="left: 1291.3px; top: 131.5px; font-size: 12.4px; color: rgb(64, 64, 64); letter-spacing: -0.2px;">Analysis properties</div>
<div class="abs" style="left:1283px;top:198px;width:217px;height:2px;background:#dedede"></div>
<svg class="abs" style="left:1291px;top:170px" width="15" height="15" viewBox="0 0 15 15"><g fill="#5b53c4"><rect x="0" y="0" width="6.2" height="6.6"></rect><rect x="7.6" y="0" width="7" height="2.9"></rect><rect x="7.6" y="4.3" width="7" height="2.3"></rect><rect x="0" y="8" width="6.2" height="6.6"></rect><rect x="7.6" y="8" width="7" height="2.2"></rect><rect x="7.6" y="11.4" width="2.6" height="3.2"></rect><rect x="11.6" y="11.4" width="3" height="3.2"></rect></g></svg>
<div class="t" style="left: 1317.6px; top: 163.5px; font-size: 12.4px; color: rgb(115, 115, 115); letter-spacing: -0.32px;">Chart type</div>
<div class="t b" style="left: 1317.6px; top: 179px; font-size: 12.4px; color: rgb(64, 64, 64); letter-spacing: -0.3px;">Treemap</div>
<svg class="abs" style="left:1480px;top:172px" width="10" height="12"><path d="M3.4 1.8 L7.6 6 L3.4 10.2" fill="none" stroke="#c0bde8" stroke-width="1.2"></path></svg>
<div class="t b" style="left: 1291.3px; top: 211.6px; font-size: 14.3px; color: rgb(64, 64, 64); -webkit-text-stroke-width: 0.6px; letter-spacing: -0.36px;">Analysis type</div>
<svg class="abs" style="left:1479px;top:212.5px" width="15" height="15"><circle cx="7.4" cy="7.4" r="6.2" fill="#8c8c8c"></circle><text x="7.4" y="10.9" font-family="Liberation Sans, sans-serif" font-size="10" font-weight="bold" fill="#fff" text-anchor="middle">?</text></svg>
<div class="t" style="left: 1291.3px; top: 238.5px; font-size: 12.4px; color: rgb(89, 89, 89); letter-spacing: -0.39px;">Breakdown</div>
<div class="t b" style="left: 1291.3px; top: 288.6px; font-size: 14.3px; color: rgb(64, 64, 64); -webkit-text-stroke-width: 0.6px; letter-spacing: -0.42px;">Dimensions</div>
<div class="box" style="top:319px"></div>
<div class="t b" style="left: 1302.8px; top: 327.5px; font-size: 12.4px; color: rgb(64, 64, 64); letter-spacing: -0.4px;">CategoryName</div>
<svg class="abs" style="left:1452px;top:327px" width="12" height="13"><path d="M3.6 2.4 L7.8 6.5 L3.6 10.6" fill="none" stroke="#404040" stroke-width="1.5"></path></svg>
<svg class="abs" style="left:1476.4px;top:326.8px" width="11" height="15"><rect x="0.65" y="0.65" width="1.5" height="1.5" rx="0.3" fill="#404040"></rect><rect x="0.65" y="4.45" width="1.5" height="1.5" rx="0.3" fill="#404040"></rect><rect x="0.65" y="8.25" width="1.5" height="1.5" rx="0.3" fill="#404040"></rect><rect x="0.65" y="12.05" width="1.5" height="1.5" rx="0.3" fill="#404040"></rect><rect x="4.25" y="0.65" width="1.5" height="1.5" rx="0.3" fill="#404040"></rect><rect x="4.25" y="4.45" width="1.5" height="1.5" rx="0.3" fill="#404040"></rect><rect x="4.25" y="8.25" width="1.5" height="1.5" rx="0.3" fill="#404040"></rect><rect x="4.25" y="12.05" width="1.5" height="1.5" rx="0.3" fill="#404040"></rect><rect x="7.85" y="0.65" width="1.5" height="1.5" rx="0.3" fill="#404040"></rect><rect x="7.85" y="4.45" width="1.5" height="1.5" rx="0.3" fill="#404040"></rect><rect x="7.85" y="8.25" width="1.5" height="1.5" rx="0.3" fill="#404040"></rect><rect x="7.85" y="12.05" width="1.5" height="1.5" rx="0.3" fill="#404040"></rect></svg>
<div class="box" style="top:363.5px"></div>
<div class="t b" style="left: 1302.8px; top: 372px; font-size: 12.4px; color: rgb(64, 64, 64); letter-spacing: -0.25px;">ProductName</div>
<svg class="abs" style="left:1452px;top:371.5px" width="12" height="13"><path d="M3.6 2.4 L7.8 6.5 L3.6 10.6" fill="none" stroke="#404040" stroke-width="1.5"></path></svg>
<svg class="abs" style="left:1476.4px;top:371.3px" width="11" height="15"><rect x="0.65" y="0.65" width="1.5" height="1.5" rx="0.3" fill="#404040"></rect><rect x="0.65" y="4.45" width="1.5" height="1.5" rx="0.3" fill="#404040"></rect><rect x="0.65" y="8.25" width="1.5" height="1.5" rx="0.3" fill="#404040"></rect><rect x="0.65" y="12.05" width="1.5" height="1.5" rx="0.3" fill="#404040"></rect><rect x="4.25" y="0.65" width="1.5" height="1.5" rx="0.3" fill="#404040"></rect><rect x="4.25" y="4.45" width="1.5" height="1.5" rx="0.3" fill="#404040"></rect><rect x="4.25" y="8.25" width="1.5" height="1.5" rx="0.3" fill="#404040"></rect><rect x="4.25" y="12.05" width="1.5" height="1.5" rx="0.3" fill="#404040"></rect><rect x="7.85" y="0.65" width="1.5" height="1.5" rx="0.3" fill="#404040"></rect><rect x="7.85" y="4.45" width="1.5" height="1.5" rx="0.3" fill="#404040"></rect><rect x="7.85" y="8.25" width="1.5" height="1.5" rx="0.3" fill="#404040"></rect><rect x="7.85" y="12.05" width="1.5" height="1.5" rx="0.3" fill="#404040"></rect></svg>
<div class="t b" style="left: 1291.3px; top: 431.1px; font-size: 14.3px; color: rgb(64, 64, 64); -webkit-text-stroke-width: 0.6px; letter-spacing: -0.72px;">Measures</div>
<div class="box" style="top:461.5px"></div>
<div class="vd" style="left:1340.5px;top:462px;height:29px;background:#e0e0e0"></div>
<div class="t b" style="left: 1305.7px; top: 470.5px; font-size: 11.4px; color: rgb(64, 64, 64); letter-spacing: -0.37px;">Sum</div>
<div class="t b" style="left: 1351.9px; top: 470px; font-size: 12.4px; color: rgb(64, 64, 64); letter-spacing: -0.6px;">Sales</div>
<svg class="abs" style="left:1469.5px;top:469.5px" width="12" height="13"><path d="M3.6 2.4 L7.8 6.5 L3.6 10.6" fill="none" stroke="#404040" stroke-width="1.5"></path></svg>


</body></html>
